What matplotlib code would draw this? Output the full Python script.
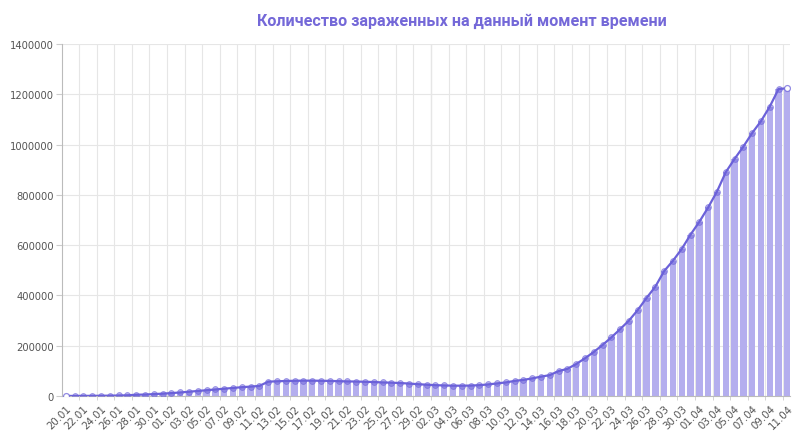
import matplotlib.pyplot as plt

dates = ['20.01', '21.01', '22.01', '23.01', '24.01', '25.01', '26.01', '27.01', '28.01', '29.01',
         '30.01', '31.01', '01.02', '02.02', '03.02', '04.02', '05.02', '06.02', '07.02', '08.02',
         '09.02', '10.02', '11.02', '12.02', '13.02', '14.02', '15.02', '16.02', '17.02', '18.02',
         '19.02', '20.02', '21.02', '22.02', '23.02', '24.02', '25.02', '26.02', '27.02', '28.02',
         '29.02', '01.03', '02.03', '03.03', '04.03', '05.03', '06.03', '07.03', '08.03', '09.03',
         '10.03', '11.03', '12.03', '13.03', '14.03', '15.03', '16.03', '17.03', '18.03', '19.03',
         '20.03', '21.03', '22.03', '23.03', '24.03', '25.03', '26.03', '27.03', '28.03', '29.03',
         '30.03', '31.03', '01.04', '02.04', '03.04', '04.04', '05.04', '06.04', '07.04', '08.04',
         '09.04', '10.04', '11.04']

active = [282, 300, 500, 600, 1000, 1300, 2000, 2700, 5000, 5800,
          7500, 9400, 11500, 14000, 17000, 20000, 23000, 26000, 29000, 32000,
          35000, 37500, 40000, 57000, 58500, 59700, 60500, 61000, 61000, 60500,
          60000, 59000, 58000, 57500, 56500, 55500, 54000, 53000, 51500, 49500,
          47000, 45000, 43000, 42000, 41000, 41000, 41500, 43000, 46000, 50000,
          54000, 60000, 64000, 70000, 77000, 83000, 99000, 108000, 127000, 150000,
          175000, 203000, 233000, 266000, 300000, 342000, 390000, 435000, 497000, 538000,
          585000, 642000, 693000, 750000, 813000, 890000, 943000, 992000, 1046000, 1093000,
          1151000, 1221000, 1224000]

title = 'Количество зараженных на данный момент времени'

bar_color = '#b4aeee'
line_color = '#6b61d9'
grid_color = '#e6e6e6'
text_color = '#555555'

fig = plt.figure(figsize=(8, 4.35), dpi=100)
ax = fig.add_axes([62 / 800, 38 / 435, 728 / 800, 352 / 435])

x = list(range(len(dates)))
ax.bar(x, active, width=0.72, color=bar_color, zorder=2)
ax.plot(x, active, color=line_color, lw=1.6, zorder=3)
ax.scatter(x[1:-1], active[1:-1], s=18, facecolor=line_color + '80',
           edgecolor=line_color + '99', lw=0.6, zorder=4)
ax.scatter([x[0], x[-1]], [active[0], active[-1]], s=18, facecolor='white',
           edgecolor=line_color + 'bb', lw=0.9, zorder=4)

ax.set_xlim(-0.43, len(dates) - 0.7)
ax.set_ylim(0, 1400000)
ax.set_yticks(range(0, 1400001, 200000))
ax.set_yticklabels([str(v) for v in range(0, 1400001, 200000)])

ax.set_xticks(x[::2])
ax.set_xticklabels(dates[::2], rotation=45, ha='right', va='top', rotation_mode='anchor')
grid_pos = [1.5 + 2 * k for k in range(41)]
ax.set_xticks(grid_pos, minor=True)
ax.grid(True, which='minor', axis='x', color=grid_color, lw=0.8, zorder=0)
ax.grid(True, which='major', axis='y', color=grid_color, lw=0.8, zorder=0)
ax.axvline(41.5, color='#c8c8c8', lw=0.8, zorder=1)

ax.tick_params(axis='x', which='major', length=0, labelsize=7.4, labelcolor=text_color, pad=5)
ax.tick_params(axis='x', which='minor', length=3, color='#cccccc')
ax.tick_params(axis='y', length=4, color='#cccccc', labelsize=7.2, labelcolor=text_color, pad=2)

for side in ['top', 'right']:
    ax.spines[side].set_visible(False)
ax.spines['left'].set_color('#bbbbbb')
ax.spines['bottom'].set_color('#bbbbbb')

fig.text(462 / 800, 414 / 435, title, ha='center', va='center', fontsize=11.6,
         fontweight='bold', color='#7468d8', family=['Roboto', 'DejaVu Sans'])

fig.savefig('out.png', dpi=100)
